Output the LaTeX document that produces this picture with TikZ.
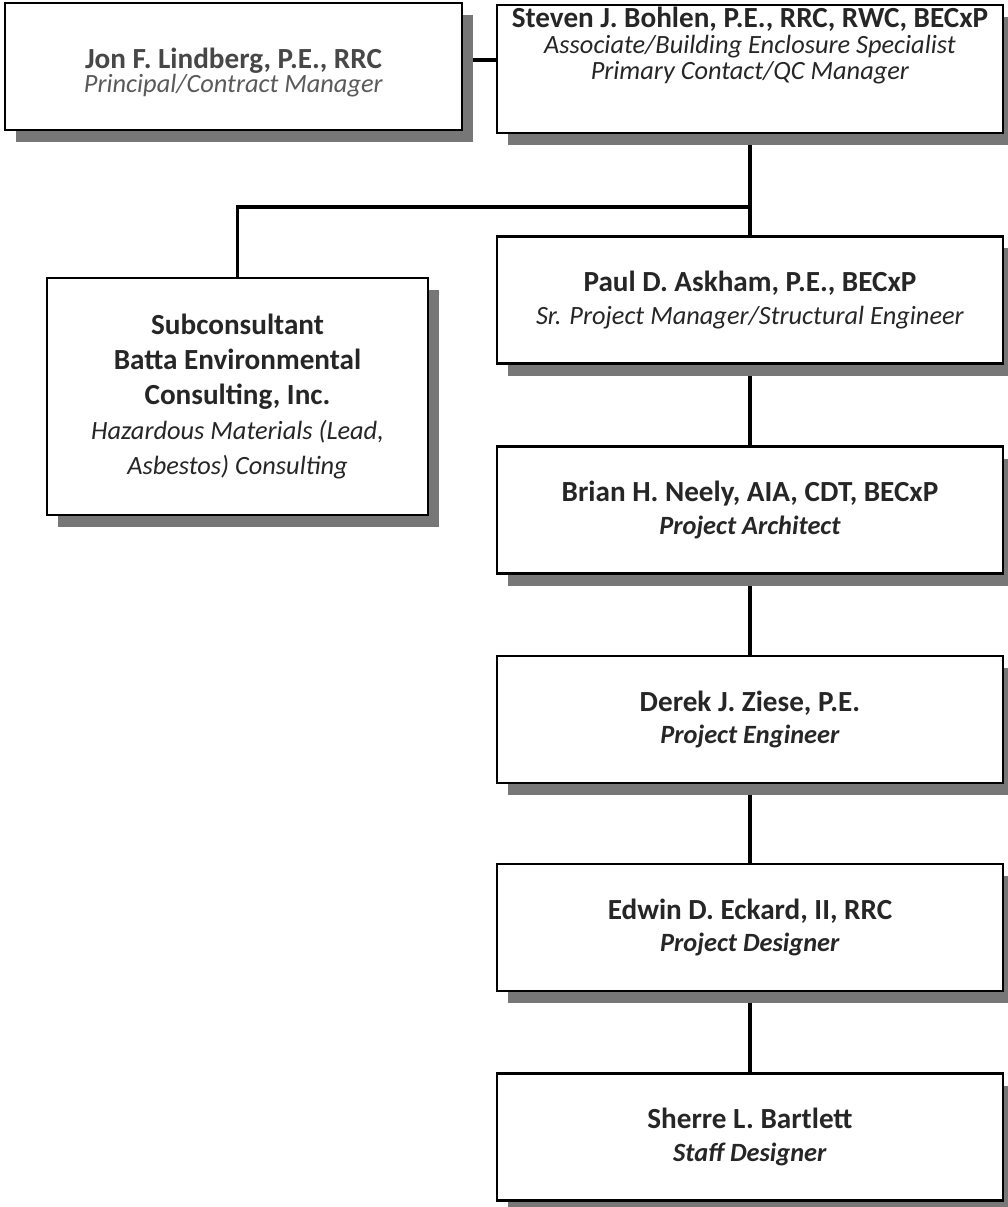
\documentclass[tikz,border=0pt]{standalone}
\usepackage{fontspec}
\setmainfont{Carlito}
\usetikzlibrary{shadows,backgrounds}
\definecolor{boxshadow}{HTML}{777777}
\definecolor{inktext}{HTML}{262626}
\definecolor{greytext}{HTML}{5A5A5A}
\newcommand{\who}[1]{\textbf{\fontsize{16.6}{18.5}\selectfont #1}}
\begin{document}
\begin{tikzpicture}[
        person/.style={draw,line width=1.4pt,fill=white,align=center,text=inktext,
            minimum width=10.12cm,minimum height=2.54cm,inner sep=0pt,
            font={\fontsize{15}{18.5}\selectfont},
            drop shadow={shadow xshift=0.22cm,shadow yshift=-0.24cm,fill=boxshadow,opacity=1}},
        tight/.style={font={\fontsize{15}{#1}\selectfont\lineskiplimit=-20pt}},
        link/.style={line width=2pt}
    ]
    \useasboundingbox (0,0) rectangle (20.16,-24.14);
    % top row
    \node[person,tight=14.2pt,minimum width=9.14cm,text=greytext,text height=1.8cm,text depth=0.74cm] (lindberg) at (4.67,-1.33)
        {\who{\color{inktext!85}Jon F. Lindberg, P.E., RRC}\\ \textit{Principal/Contract Manager}};
    \node[person,tight=14.8pt,text height=1.5cm,text depth=1.06cm] (bohlen) at (15,-1.38)
        {\who{Steven J. Bohlen, P.E., RRC, RWC, BECxP}\\ \textit{Associate/Building Enclosure Specialist}\\ \textit{Primary Contact/QC Manager}};
    % subconsultant
    \node[person,minimum width=7.62cm,minimum height=4.74cm,font={\fontsize{15}{19.8}\selectfont}] (batta) at (4.75,-7.93)
        {\who{Subconsultant}\\ \who{Batta Environmental}\\ \who{Consulting, Inc.}\\ \textit{Hazardous Materials (Lead,}\\ \textit{Asbestos) Consulting}};
    % project team
    \node[person] (askham) at (15,-6.0)
        {\who{Paul D. Askham, P.E., BECxP}\\ \textit{Sr. Project Manager/Structural Engineer}};
    \node[person] (neely) at (15,-10.2)
        {\who{Brian H. Neely, AIA, CDT, BECxP}\\ \textit{\bfseries Project Architect}};
    \node[person] (ziese) at (15,-14.39)
        {\who{Derek J. Ziese, P.E.}\\ \textit{\bfseries Project Engineer}};
    \node[person] (eckard) at (15,-18.55)
        {\who{Edwin D. Eckard, II, RRC}\\ \textit{\bfseries Project Designer}};
    \node[person] (bartlett) at (15,-22.74)
        {\who{Sherre L. Bartlett}\\ \textit{\bfseries Staff Designer}};
    % connectors
    \begin{scope}[on background layer]
        \draw[link] (lindberg.east |- 0,-1.2) -- (bohlen.west |- 0,-1.2);
        \draw[link] (bohlen.south) -- (askham.north);
        \draw[link] (bohlen.south |- 0,-4.14) -| (batta.north);
        \draw[link] (askham.south) -- (neely.north);
        \draw[link] (neely.south) -- (ziese.north);
        \draw[link] (ziese.south) -- (eckard.north);
        \draw[link] (eckard.south) -- (bartlett.north);
    \end{scope}
\end{tikzpicture}
\end{document}
